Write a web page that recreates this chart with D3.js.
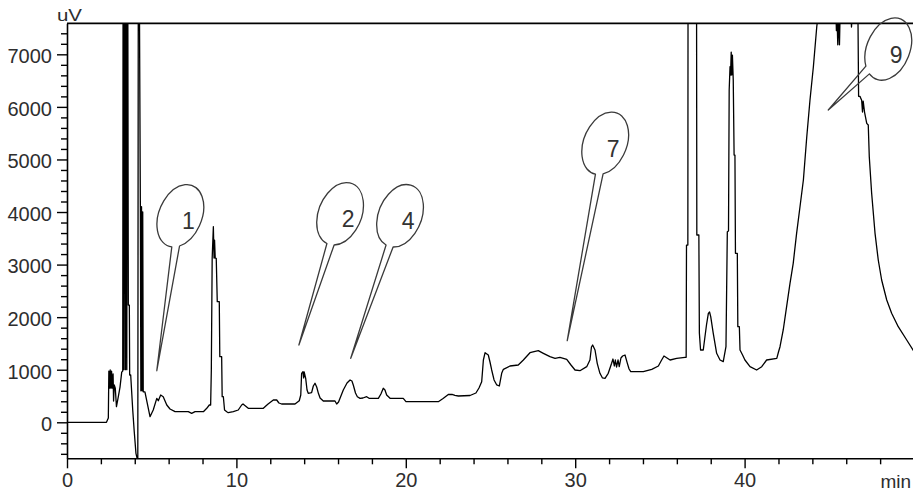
<!DOCTYPE html>
<html>
<head>
<meta charset="utf-8">
<script src="https://cdn.jsdelivr.net/npm/d3@7"></script>
<style>
  html, body { margin: 0; padding: 0; background: #fff; }
  svg { display: block; }
</style>
</head>
<body>
<svg id="chart" width="913" height="496"></svg>
<script>
// Detector trace: retention time (min) and signal (uV)
const retentionTime = [
  0.00, 2.33, 2.44, 2.47, 2.51, 2.55, 2.59, 2.63, 2.67, 2.72, 2.75, 2.79, 2.85, 2.92, 3.03, 3.13, 3.23, 3.29,
  3.32, 3.36, 3.41, 3.45, 3.49, 3.53, 3.57, 3.62, 3.68, 3.70, 3.76, 3.88, 3.97, 4.07, 4.15, 4.18,
  4.22, 4.33, 4.36, 4.40, 4.43, 4.47, 4.50, 4.60, 4.90, 5.09, 5.30, 5.39, 5.53, 5.68, 5.89, 6.08, 6.38, 7.16, 7.36, 7.56, 8.05, 8.25, 8.40,
  8.48, 8.52, 8.57, 8.64, 8.68, 8.71, 8.75, 8.81, 8.87, 8.99, 9.02, 9.13, 9.16, 9.23, 9.30, 9.43, 9.52, 9.82, 10.11, 10.31, 10.39, 10.70, 11.59, 11.87, 12.18, 12.38, 12.51, 12.67, 13.46, 13.71,
  13.80, 13.85, 13.93, 13.97, 14.00, 14.09, 14.17, 14.24, 14.44, 14.54, 14.64, 14.74, 14.84, 14.94, 15.13, 15.82, 15.92, 16.03, 16.31, 16.53, 16.71, 16.82, 16.90, 17.03, 17.14, 17.30, 17.47, 17.69, 17.83, 18.38, 18.53, 18.67, 18.77, 18.87, 19.07, 19.85, 20.01, 20.15, 21.92, 22.20, 22.51, 22.73, 22.90, 23.10, 23.79,
  24.14, 24.32, 24.48, 24.58, 24.68, 24.87, 24.97, 25.07, 25.21, 25.37, 25.52, 25.66, 25.76, 26.15, 26.64, 26.94, 27.33, 27.82, 28.12, 28.51,
  28.81, 29.10, 29.50, 29.75, 29.99, 30.28, 30.68, 30.87, 30.96, 31.03, 31.17, 31.30, 31.46, 31.61, 31.76, 31.95, 32.15, 32.23, 32.31, 32.37,
  32.44, 32.53, 32.60, 32.70, 32.80, 32.94, 33.08, 33.18, 33.28, 34.02, 34.52, 34.91, 35.07, 35.24, 35.42, 35.60, 35.99, 36.48, 36.55, 36.57,
  36.65, 36.67, 37.15,
  37.18, 37.30, 37.33, 37.40, 37.56, 37.66, 37.75, 37.86, 37.93, 38.00, 38.15, 38.35, 38.55, 38.74, 38.90, 38.98, 39.05, 39.09, 39.14, 39.17,
  39.21, 39.24, 39.28, 39.33, 39.38, 39.43, 39.46, 39.57, 39.60, 39.69, 39.73, 39.88, 40.02, 40.32, 40.71, 41.01, 41.30, 41.90, 42.00, 42.09,
  42.28, 42.48, 42.68, 42.87, 43.07, 43.27, 43.47, 43.67, 43.86, 44.06, 44.26, 44.36, 45.39, 45.42, 45.45, 45.50, 45.55, 45.60, 45.64, 46.28,
  46.31, 46.36, 46.69, 46.73, 46.81, 46.91, 46.96, 47.00, 47.08, 47.21, 47.30, 47.36, 47.50, 47.70, 47.89, 48.09, 48.39, 48.68, 49.07, 49.57,
  49.94, 50.00
];
const signal = [
  0, 0, 80, 975, 650, 995, 650, 975, 650, 920, 405, 710, 650, 297, 487, 670, 955, 975,
  12000, 1000, 12000, 1000, 12000, 1000, 12000, 2230, 2230, 900, 900, 234, -180, -590, -700, -720,
  12000, 4100, 600, 4100, 600, 4000, 580, 580, 107, 234, 456, 410, 519, 487, 329, 253, 202, 202, 171, 202, 202, 266, 329,
  329, 995, 3119, 3720, 3125, 3467, 3125, 3119, 2294, 2294, 1248, 1248, 487, 487, 234, 202, 183, 202, 234, 329, 348, 266, 266, 348, 424, 424, 367, 348, 348, 410,
  519, 932, 963, 843, 957, 836, 614, 551, 563, 690, 742, 671, 551, 462, 405, 405, 348, 386, 614, 747, 805, 786, 710, 557, 487, 456, 462, 487, 456, 456, 538, 647, 614, 519, 456, 456, 392, 392, 392, 453, 529, 529, 510, 500, 510,
  557, 652, 772, 1185, 1324, 1280, 1147, 995, 805, 710, 690, 932, 1008, 1071, 1090, 1185, 1324, 1362, 1312, 1248,
  1217, 1236, 1198, 1090, 995, 981, 1058, 1185, 1432, 1470, 1375, 1122, 932, 843, 836, 932, 1122, 1204, 1071, 1185,
  1052, 1185, 1058, 1223, 1261, 1280, 1122, 1014, 963, 963, 1008, 1071, 1166, 1261, 1223, 1185, 1217, 1236, 1236, 3372,
  3372, 12000, 12000,
  3563, 3563, 1698, 1375, 1375, 1628, 1851, 2073, 2098, 2009, 1693, 1312, 1185, 1153, 1438, 3625, 3638, 6320, 6763, 6605,
  7043, 6605, 6986, 6511, 5084, 5084, 3214, 3214, 1818, 1818, 1375, 1280, 1185, 1058, 995, 1058, 1185, 1217, 1337, 1438,
  1756, 2199, 2644, 3024, 3595, 4101, 4609, 5432, 6130, 6763, 7524, 7800, 7800, 7450, 7800, 7180, 7800, 7180, 7800, 7800,
  7520, 7800, 7800, 6200, 6200, 6128, 5902, 6111, 5902, 5687, 5655, 5052, 4356, 3595, 3087, 2707, 2326, 2073, 1818, 1565,
  1375, 1350
];

// Axis ticks
const xTickValues = [0, 10, 20, 30, 40];
const yTickValues = [0, 1000, 2000, 3000, 4000, 5000, 6000, 7000];
const xUnit = "min";
const yUnit = "uV";

// Peak callouts: label, pointer tip and bubble centre in data units
const peakLabels   = ["1", "2", "4", "7", "9"];
const tipTime      = [5.30, 13.69, 16.75, 29.53, 44.94];
const tipSignal    = [981, 1470, 1217, 1552, 5940];
const bubbleTime   = [6.69, 16.12, 19.66, 31.77, 48.48];
const bubbleSignal = [3928, 3966, 3928, 5307, 7100];

const svg = d3.select("#chart");
const font = "'Liberation Sans', Arial, sans-serif";

const x = d3.scaleLinear().domain([0, 50]).range([67, 914]);
const y = d3.scaleLinear().domain([-685, 7590]).range([458.3, 23.3]);

const textColor = "#2e2e2e";

// Clip region for the trace
svg.append("defs").append("clipPath").attr("id", "plotClip")
  .append("rect")
  .attr("x", x(0)).attr("y", y.range()[1])
  .attr("width", x(50) - x(0)).attr("height", y.range()[0] - y.range()[1]);

// Minor ticks every 200 uV and every 2 min
const yMinor = d3.range(-600, 7600, 200).filter(v => v % 1000 !== 0);
const xMinor = d3.range(2, 50, 2).filter(v => v % 10 !== 0);

const yMinorAxis = svg.append("g")
  .attr("transform", `translate(${x(0)},0)`)
  .call(d3.axisLeft(y).tickValues(yMinor).tickSize(6).tickFormat(() => ""));
yMinorAxis.select(".domain").remove();
yMinorAxis.selectAll("line").attr("stroke", "#000").attr("stroke-width", 1.4);

const xMinorAxis = svg.append("g")
  .attr("transform", `translate(0,${y.range()[0]})`)
  .call(d3.axisBottom(x).tickValues(xMinor).tickSize(6).tickFormat(() => ""));
xMinorAxis.select(".domain").remove();
xMinorAxis.selectAll("line").attr("stroke", "#000").attr("stroke-width", 1.4);

// Major axes
const yAxis = svg.append("g")
  .attr("transform", `translate(${x(0)},0)`)
  .call(d3.axisLeft(y).tickValues(yTickValues).tickSize(10).tickPadding(5)
    .tickSizeOuter(0).tickFormat(d3.format("d")));
yAxis.select(".domain").attr("stroke", "#000").attr("stroke-width", 1.6);
yAxis.selectAll("line").attr("stroke", "#000").attr("stroke-width", 1.4);
yAxis.selectAll("text")
  .attr("font-family", font).attr("font-size", 20).attr("fill", textColor)
  .attr("dy", "0.42em");

const xAxis = svg.append("g")
  .attr("transform", `translate(0,${y.range()[0]})`)
  .call(d3.axisBottom(x).tickValues(xTickValues).tickSize(10).tickPadding(5)
    .tickSizeOuter(0).tickFormat(d3.format("d")));
xAxis.select(".domain").attr("stroke", "#000").attr("stroke-width", 1.6);
xAxis.selectAll("line").attr("stroke", "#000").attr("stroke-width", 1.4);
xAxis.selectAll("text")
  .attr("font-family", font).attr("font-size", 20).attr("fill", textColor);

// Top frame line
svg.append("line")
  .attr("x1", x(0)).attr("x2", x(50))
  .attr("y1", y.range()[1]).attr("y2", y.range()[1])
  .attr("stroke", "#000").attr("stroke-width", 1.8);

// Unit labels
svg.append("text")
  .attr("x", 57).attr("y", 20.7)
  .attr("font-family", font).attr("font-size", 16).attr("fill", textColor)
  .attr("textLength", 25).attr("lengthAdjust", "spacingAndGlyphs")
  .text(yUnit);

svg.append("text")
  .attr("x", 911).attr("y", 488)
  .attr("text-anchor", "end")
  .attr("font-family", font).attr("font-size", 19).attr("fill", textColor)
  .text(xUnit);

// Trace
const points = retentionTime.map((t, i) => [t, signal[i]]);
svg.append("path")
  .datum(points)
  .attr("clip-path", "url(#plotClip)")
  .attr("fill", "none")
  .attr("stroke", "#000")
  .attr("stroke-width", 1.3)
  .attr("stroke-linejoin", "round")
  .attr("d", d3.line().x(d => x(d[0])).y(d => y(d[1])));

// Callout bubbles: tilted ellipse with a tapering pointer
function bubblePath(cx, cy, tx, ty, rx, ry, rotDeg, halfNeck) {
  const th = rotDeg * Math.PI / 180, c = Math.cos(th), s = Math.sin(th);
  const dx = tx - cx, dy = ty - cy;
  const lx = dx * c + dy * s, ly = -dx * s + dy * c;
  const phi = Math.atan2(ly / ry, lx / rx);
  const onEllipse = a => {
    const ex = rx * Math.cos(a), ey = ry * Math.sin(a);
    return [cx + ex * c - ey * s, cy + ex * s + ey * c];
  };
  const p1 = onEllipse(phi + halfNeck), p2 = onEllipse(phi - halfNeck);
  return `M${p1[0]},${p1[1]} A${rx},${ry} ${rotDeg} 1 1 ${p2[0]},${p2[1]} L${tx},${ty} Z`;
}

const callouts = peakLabels.map((label, i) => ({
  label,
  cx: x(bubbleTime[i]), cy: y(bubbleSignal[i]),
  tx: x(tipTime[i]), ty: y(tipSignal[i])
}));

const cg = svg.append("g");
cg.selectAll("path.bubble")
  .data(callouts)
  .join("path")
  .attr("class", "bubble")
  .attr("fill", "none")
  .attr("stroke", "#3a3a3a")
  .attr("stroke-width", 1.3)
  .attr("stroke-linejoin", "round")
  .attr("d", d => bubblePath(d.cx, d.cy, d.tx, d.ty, 21.5, 32.5, 22, 0.17));

cg.selectAll("text.num")
  .data(callouts)
  .join("text")
  .attr("class", "num")
  .attr("x", d => d.cx + 8)
  .attr("y", d => d.cy + 13.5)
  .attr("text-anchor", "middle")
  .attr("font-family", font)
  .attr("font-size", 23)
  .attr("fill", "#333")
  .text(d => d.label);
</script>
</body>
</html>
